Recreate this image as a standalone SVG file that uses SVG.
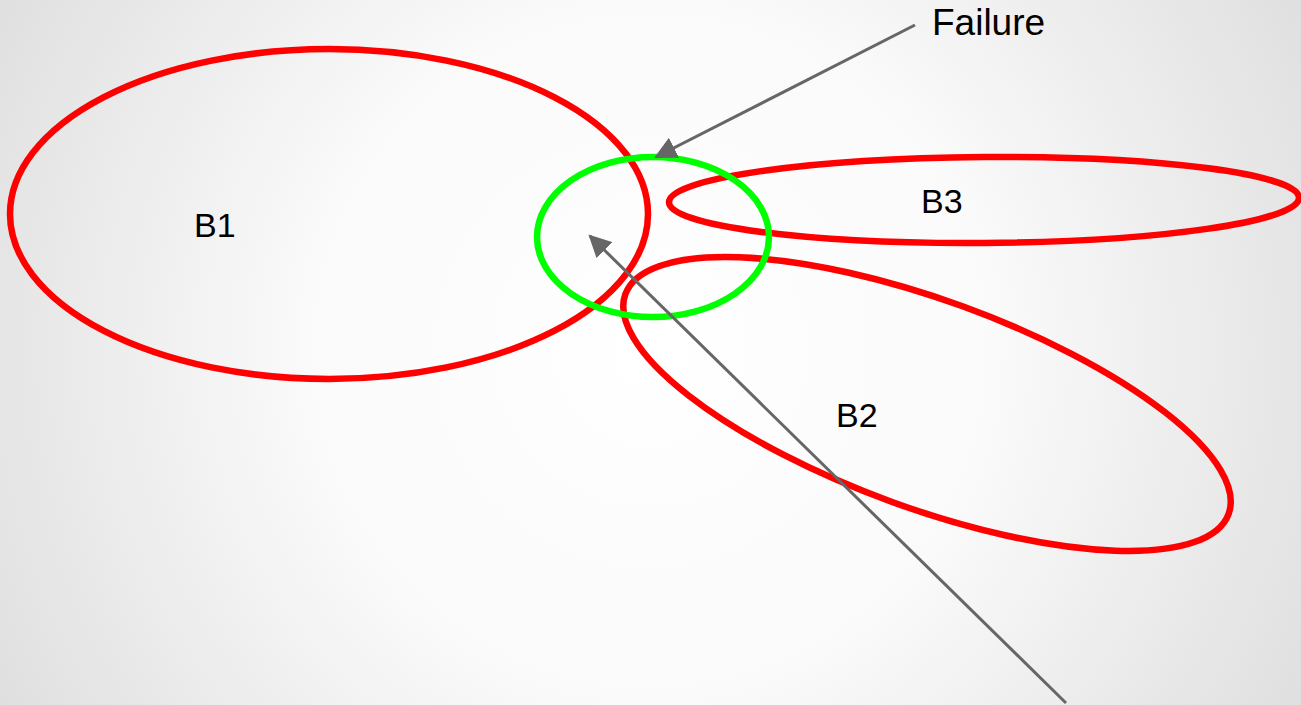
<svg xmlns="http://www.w3.org/2000/svg" width="1301" height="705" viewBox="0 0 1301 705">
<defs>
<radialGradient id="bg" cx="650" cy="350" r="760" gradientUnits="userSpaceOnUse">
<stop offset="0" stop-color="#ffffff"/>
<stop offset="0.45" stop-color="#fafafa"/>
<stop offset="1" stop-color="#dedede"/>
</radialGradient>
<marker id="arr" viewBox="0 0 10 10" refX="9" refY="5" markerWidth="7.5" markerHeight="7.5" orient="auto" markerUnits="strokeWidth">
<path d="M0,0 L10,5 L0,10 z" fill="#666666"/>
</marker>
<style>
.red{fill:none;stroke:#ff0000;stroke-width:6.5}
.grn{fill:none;stroke:#00ff00;stroke-width:6.5}
.conn{fill:none;stroke:#666666;stroke-width:3;marker-end:url(#arr)}
.lbl{font-family:"Liberation Sans",Arial,sans-serif;fill:#000000}
</style>
</defs>
<rect x="0" y="0" width="1301" height="705" fill="url(#bg)"/>
<g id="B1"><ellipse class="red" cx="329" cy="214" rx="319" ry="165"/><text class="lbl" x="194" y="237" font-size="34">B1</text></g>
<g id="B3"><ellipse class="red" cx="984" cy="200" rx="315" ry="43" transform="rotate(-0.4 984 200)"/><text class="lbl" x="921" y="213" font-size="34">B3</text></g>
<g id="B2"><ellipse class="red" cx="927" cy="404" rx="321" ry="104" transform="rotate(20 927 404)"/><text class="lbl" x="836" y="427" font-size="34">B2</text></g>
<g id="Failure"><ellipse class="grn" cx="653" cy="237" rx="116" ry="80"/></g>
<g id="FailureLabel"><text class="lbl" x="932" y="35" font-size="37">Failure</text></g>
<g id="connectors">
<line class="conn" x1="915" y1="25" x2="656" y2="157"/>
<line class="conn" x1="1066" y1="703" x2="590" y2="236"/>
</g>
</svg>
